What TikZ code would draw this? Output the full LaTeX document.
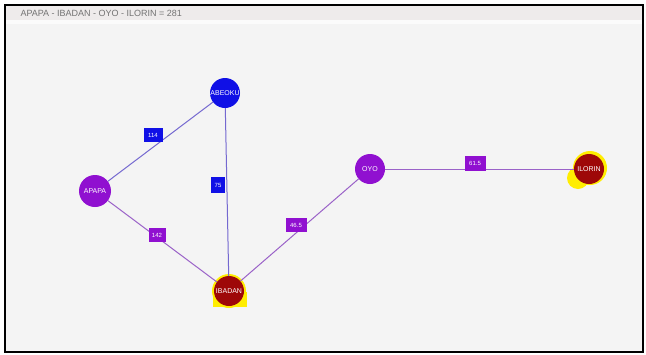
\documentclass[tikz,border=0pt]{standalone}
\usepackage{fontspec}
\setmainfont{Liberation Sans}
\begin{document}
\begin{tikzpicture}[x=1pt,y=-1pt,
  city/.style={circle, minimum size=30pt, inner sep=0pt, text=white, font=\fontsize{7}{8}\selectfont},
  bluecity/.style={city, fill=nodeblue},
  purplecity/.style={city, fill=nodepurple},
  redcity/.style={city, fill=nodered},
  lbl/.style={rectangle, inner sep=1.5pt, minimum height=14pt, minimum width=14pt, text=white, font=\fontsize{6}{7}\selectfont},
  bluelbl/.style={lbl, fill=nodeblue},
  purplelbl/.style={lbl, fill=nodepurple},
  blueedge/.style={draw=edgeblue, line width=1pt},
  purpleedge/.style={draw=edgepurple, line width=1pt},
  glow/.style={fill=yellow!95!orange}
]
\definecolor{nodeblue}{HTML}{1010E6}
\definecolor{nodepurple}{HTML}{9010D0}
\definecolor{nodered}{HTML}{9E0808}
\definecolor{edgeblue}{HTML}{7468D0}
\definecolor{edgepurple}{HTML}{9A62C8}
\definecolor{bg}{HTML}{F4F4F4}
\definecolor{bar}{HTML}{EEEBEB}
\useasboundingbox (0,0) rectangle (646,354);
\fill[white] (0,0) rectangle (646,354);
\fill[bg] (5,5) rectangle (643,352);
\fill[bar] (6,6) rectangle (642,20);
\fill[white!60!bg] (6,20) rectangle (642,24);
\draw[black, line width=2pt] (5,5) rectangle (643,352);
\node[anchor=west, text=black!55, font=\fontsize{9}{10}\selectfont] (title) at (17,13) {APAPA - IBADAN - OYO - ILORIN = 281};
% highlights
\fill[glow] (229,291) circle (17);
\fill[glow] (213,292) rectangle (247,307);
\fill[glow] (590,168) circle (17);
\fill[glow] (578,178) circle (11);
% nodes
\node[bluecity] (abeoku) at (225,93) {ABEOKU};
\node[purplecity, minimum size=32pt] (apapa) at (95,191) {APAPA};
\node[redcity] (ibadan) at (229,291) {IBADAN};
\node[purplecity] (oyo) at (370,169) {OYO};
\node[redcity] (ilorin) at (589,169) {ILORIN};
% edges
\draw[blueedge] (apapa) -- (abeoku);
\draw[blueedge] (abeoku) -- (ibadan);
\draw[purpleedge] (apapa) -- (ibadan);
\draw[purpleedge] (ibadan) -- (oyo);
\draw[purpleedge] (oyo) -- (ilorin);
% labels
\node[bluelbl, minimum width=19pt] (l114) at (153,135) {114};
\node[bluelbl, minimum height=16pt] (l75) at (218,185) {75};
\node[purplelbl, minimum width=17pt] (l142) at (157,235) {142};
\node[purplelbl, minimum width=21pt] (l465) at (296,225) {46.5};
\node[purplelbl, minimum width=21pt, minimum height=15pt] (l615) at (475,163) {61.5};
\end{tikzpicture}
\end{document}
